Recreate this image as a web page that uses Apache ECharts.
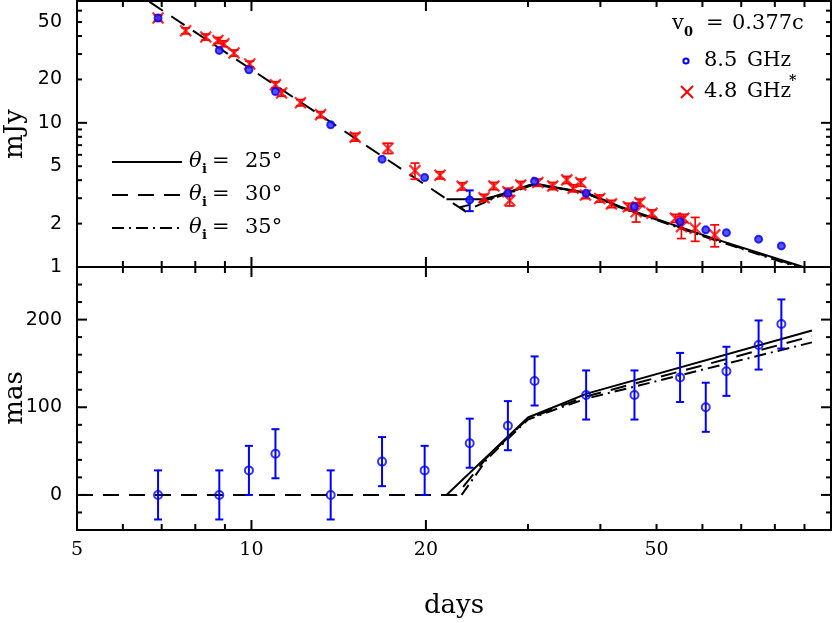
<!DOCTYPE html>
<html><head><meta charset="utf-8">
<script src="https://cdn.jsdelivr.net/npm/echarts@6/dist/echarts.min.js"></script>
<style>html,body{margin:0;padding:0;background:#fff}#c{width:834px;height:623px}</style>
</head><body><div id="c"></div>
<script>
// ---- data ----
// 8.5 GHz epochs (days), flux (mJy), flux error, separation (mas), separation error
const days85 = [6.9, 8.8, 9.9, 11.0, 13.7, 16.8, 19.9, 23.8, 27.7, 30.8, 37.8, 45.8, 54.9, 60.8, 66.0, 75.0, 82.1];
const flux85 = [53.3, 31.8, 23.3, 16.5, 9.7, 5.6, 4.18, 2.92, 3.25, 3.94, 3.25, 2.62, 2.06, 1.81, 1.73, 1.56, 1.40];
const flux85Err = [0, 0, 0, 0, 0, 0, 0, 0.48, 0, 0, 0, 0, 0, 0, 0, 0, 0];
const sep85 = [0, 0, 28, 47, 0, 38, 28, 59, 79, 130, 114, 114, 134, 100, 141, 171, 195];
const sep85Err = [28, 28, 28, 28, 28, 28, 28, 28, 28, 28, 28, 28, 28, 28, 28, 28, 28];
// 4.8 GHz epochs, flux, error
const days48 = [6.9, 7.7, 8.34, 8.75, 8.96, 9.33, 9.93, 11.0, 11.27, 12.15, 13.16, 15.1, 17.2, 19.15, 21.15, 23.1, 25.2, 26.2, 27.7, 27.9, 29.15, 31.2, 33.1, 35.0, 35.9, 37.0, 37.7, 39.9, 41.8, 44.7, 46.1, 46.8, 49.1, 53.9, 55.7, 55.2, 58.3, 63.0];
const flux48 = [53.3, 43.5, 39.4, 37.3, 35.4, 30.5, 25.6, 18.4, 16.1, 13.8, 11.4, 7.96, 6.67, 4.66, 4.33, 3.63, 3.02, 3.65, 3.33, 2.89, 3.71, 3.85, 3.65, 4.02, 3.52, 3.85, 3.16, 2.99, 2.74, 2.62, 2.42, 2.80, 2.36, 2.18, 2.18, 1.905, 1.857, 1.67];
const flux48Err = [2.6, 2.1, 1.9, 1.8, 1.7, 1.5, 1.2, 0.9, 0.8, 0.7, 0.55, 0.5, 0.55, 0.6, 0.25, 0.21, 0.17, 0.21, 0.19, 0.24, 0.21, 0.22, 0.21, 0.23, 0.2, 0.22, 0.18, 0.17, 0.16, 0.15, 0.37, 0.16, 0.13, 0.14, 0.14, 0.33, 0.35, 0.29];
// model curves [days, value]
const theta25Flux = [[21.7, 2.95], [25.1, 2.95], [26.2, 3.08], [27.9, 3.33], [30.2, 3.71], [31.5, 3.74], [33.2, 3.59], [37.9, 3.27], [43.3, 2.62], [62.6, 1.58], [89.6, 1.0]];
const theta30Flux = [[6.67, 69], [23.8, 2.32], [22.9, 2.60], [23.8, 2.70], [26.2, 3.03], [27.9, 3.30], [30.2, 3.68], [31.5, 3.71], [33.2, 3.57], [37.9, 3.25], [43.3, 2.60], [62.6, 1.56], [88.5, 1.0]];
const theta35Flux = [[24.3, 2.62], [26.2, 3.0], [27.9, 3.27], [30.2, 3.64], [31.5, 3.68], [33.2, 3.55], [37.9, 3.23], [43.3, 2.58], [62.6, 1.55], [87.5, 1.0]];
const theta25Mas = [[21.7, 0], [30.0, 88.3], [33.6, 101.5], [37.9, 115.6], [92.7, 187.5]];
const theta30Mas = [[5, 0], [22.6, 0], [25.5, 43], [30.0, 87], [33.6, 99.5], [37.9, 112.5], [92.7, 181]];
const theta35Mas = [[23.05, 0], [25.5, 41], [30.0, 86], [33.6, 98], [37.9, 110], [92.7, 174]];
const thetaValues = [25, 30, 35];
// axes / ticks
const xTickVals = [6, 7, 8, 9, 10, 20, 30, 40, 50, 60, 70, 80, 90];
const xMajorVals = [10, 20];
const xLabelVals = [5, 10, 20, 50];
const yTopTickVals = [2, 3, 4, 5, 6, 7, 8, 9, 10, 20, 30, 40, 50, 60];
const yTopMajorVals = [10];
const yTopLabelVals = [1, 2, 5, 10, 20, 50];
const yBotTickVals = [-20, 0, 20, 40, 60, 80, 100, 120, 140, 160, 180, 200, 220, 240];
const yBotMajorVals = [0, 100, 200];
const yBotLabelVals = [0, 100, 200];

// ---- rendering ----
const BLACK = '#000', RED = '#ff0000', BLUE = '#0000ff';
const SERIF = '"DejaVu Serif", serif', SANS = '"DejaVu Sans", sans-serif';
const chart = echarts.init(document.getElementById('c'));

function errBar(color, lw, cap) {
  return function (params, api) {
    const x = api.value(0), lo = api.value(1), hi = api.value(2);
    if (!(hi > lo)) return null;
    const a = api.coord([x, lo]), b = api.coord([x, hi]);
    const st = {stroke: color, lineWidth: lw};
    return {type: 'group', children: [
      {type: 'line', shape: {x1: a[0], y1: a[1], x2: b[0], y2: b[1]}, style: st},
      {type: 'line', shape: {x1: a[0] - cap, y1: a[1], x2: a[0] + cap, y2: a[1]}, style: st},
      {type: 'line', shape: {x1: b[0] - cap, y1: b[1], x2: b[0] + cap, y2: b[1]}, style: st}
    ]};
  };
}
function xTicks(majors) {
  return function (params, api) {
    const cs = params.coordSys, v = api.value(0);
    const x = api.coord([v, api.value(1)])[0];
    const len = majors.indexOf(v) >= 0 ? 10 : 6;
    const st = {stroke: BLACK, lineWidth: 2};
    return {type: 'group', children: [
      {type: 'line', shape: {x1: x, y1: cs.y + cs.height, x2: x, y2: cs.y + cs.height - len}, style: st},
      {type: 'line', shape: {x1: x, y1: cs.y, x2: x, y2: cs.y + len}, style: st}
    ]};
  };
}
function yTicks(majors) {
  return function (params, api) {
    const cs = params.coordSys, v = api.value(1);
    const y = api.coord([api.value(0), v])[1];
    const len = majors.indexOf(v) >= 0 ? 10 : 5;
    const st = {stroke: BLACK, lineWidth: 2};
    return {type: 'group', children: [
      {type: 'line', shape: {x1: cs.x, y1: y, x2: cs.x + len, y2: y}, style: st},
      {type: 'line', shape: {x1: cs.x + cs.width, y1: y, x2: cs.x + cs.width - len, y2: y}, style: st}
    ]};
  };
}
function xLabels(params, api) {
  const p = api.coord([api.value(0), api.value(1)]);
  return {type: 'text', x: p[0], y: p[1] + 20, style: {text: String(api.value(0)), font: '19px ' + SERIF, fill: BLACK, align: 'center', verticalAlign: 'middle'}};
}
function yLabels(params, api) {
  const p = api.coord([api.value(0), api.value(1)]);
  return {type: 'text', x: p[0] - 15, y: p[1], style: {text: String(api.value(1)), font: '19px ' + SANS, fill: BLACK, align: 'right', verticalAlign: 'middle'}};
}

const XSYM = 'path://M0,0L10,10M10,0L0,10';

const series = [
  // top model curves
  {type: 'line', xAxisIndex: 0, yAxisIndex: 0, data: theta35Flux, showSymbol: false, symbol: 'none', lineStyle: {color: BLACK, width: 2, type: [12, 5, 2, 5]}, z: 2},
  {type: 'line', xAxisIndex: 0, yAxisIndex: 0, data: theta30Flux, showSymbol: false, symbol: 'none', lineStyle: {color: BLACK, width: 2, type: [16, 10]}, z: 2},
  {type: 'line', xAxisIndex: 0, yAxisIndex: 0, data: theta25Flux, showSymbol: false, symbol: 'none', lineStyle: {color: BLACK, width: 2}, z: 2},
  // 4.8 GHz
  {type: 'custom', xAxisIndex: 0, yAxisIndex: 0, renderItem: errBar(RED, 1.7, 4.5), encode: {x: 0, y: [1, 2]},
    data: days48.map((d, i) => [d, flux48[i] - flux48Err[i], flux48[i] + flux48Err[i]]), z: 3, silent: true},
  {type: 'scatter', xAxisIndex: 0, yAxisIndex: 0, symbol: XSYM, symbolSize: 11,
    itemStyle: {color: 'none', borderColor: RED, borderWidth: 2.2},
    data: days48.map((d, i) => [d, flux48[i]]), z: 3},
  // 8.5 GHz flux
  {type: 'custom', xAxisIndex: 0, yAxisIndex: 0, renderItem: errBar(BLUE, 2, 4), encode: {x: 0, y: [1, 2]},
    data: days85.map((d, i) => [d, flux85[i] - flux85Err[i], flux85[i] + flux85Err[i]]), z: 4, silent: true},
  {type: 'scatter', xAxisIndex: 0, yAxisIndex: 0, symbol: 'circle', symbolSize: 7,
    itemStyle: {color: '#2a2aff', borderColor: BLUE, borderWidth: 2},
    data: days85.map((d, i) => [d, flux85[i]]), z: 4},
  // bottom model curves
  {type: 'line', xAxisIndex: 1, yAxisIndex: 1, data: theta35Mas, showSymbol: false, symbol: 'none', lineStyle: {color: BLACK, width: 2, type: [12, 5, 2, 5]}, z: 2},
  {type: 'line', xAxisIndex: 1, yAxisIndex: 1, data: theta30Mas, showSymbol: false, symbol: 'none', lineStyle: {color: BLACK, width: 2, type: [16, 10]}, z: 2},
  {type: 'line', xAxisIndex: 1, yAxisIndex: 1, data: theta25Mas, showSymbol: false, symbol: 'none', lineStyle: {color: BLACK, width: 2}, z: 2},
  // separation
  {type: 'custom', xAxisIndex: 1, yAxisIndex: 1, renderItem: errBar(BLUE, 2, 4), encode: {x: 0, y: [1, 2]},
    data: days85.map((d, i) => [d, sep85[i] - sep85Err[i], sep85[i] + sep85Err[i]]), z: 3, silent: true},
  {type: 'scatter', xAxisIndex: 1, yAxisIndex: 1, symbol: 'circle', symbolSize: 8,
    itemStyle: {color: 'rgba(255,255,255,0)', borderColor: BLUE, borderWidth: 2},
    data: days85.map((d, i) => [d, sep85[i]]), z: 3},
  // ticks and labels
  {type: 'custom', xAxisIndex: 0, yAxisIndex: 0, renderItem: xTicks(xMajorVals), data: xTickVals.map(v => [v, 2]), silent: true, z: 5},
  {type: 'custom', xAxisIndex: 1, yAxisIndex: 1, renderItem: xTicks(xMajorVals), data: xTickVals.map(v => [v, 0]), silent: true, z: 5},
  {type: 'custom', xAxisIndex: 0, yAxisIndex: 0, renderItem: yTicks(yTopMajorVals), data: yTopTickVals.map(v => [10, v]), silent: true, z: 5},
  {type: 'custom', xAxisIndex: 1, yAxisIndex: 1, renderItem: yTicks(yBotMajorVals), data: yBotTickVals.map(v => [10, v]), silent: true, z: 5},
  {type: 'custom', xAxisIndex: 1, yAxisIndex: 1, renderItem: xLabels, clip: false, data: xLabelVals.map(v => [v, -40]), silent: true, z: 5},
  {type: 'custom', xAxisIndex: 0, yAxisIndex: 0, renderItem: yLabels, clip: false, data: yTopLabelVals.map(v => [5, v]), silent: true, z: 5},
  {type: 'custom', xAxisIndex: 1, yAxisIndex: 1, renderItem: yLabels, clip: false, data: yBotLabelVals.map(v => [5, v]), silent: true, z: 5}
];

const hidden = {axisLine: {show: false}, axisTick: {show: false}, axisLabel: {show: false}, splitLine: {show: false}};

const graphic = [];
const legY = [162, 195, 228];
const legDash = [null, [16, 10], [12, 5, 2, 5]];
thetaValues.forEach((t, i) => {
  const y = legY[i];
  graphic.push({type: 'line', shape: {x1: 112, y1: y, x2: 182, y2: y}, style: {stroke: BLACK, lineWidth: 2, lineDash: legDash[i]}});
  graphic.push({type: 'text', x: 189, y: y, style: {text: 'θ', font: 'italic 21px ' + SERIF, fill: BLACK, verticalAlign: 'middle'}});
  graphic.push({type: 'text', x: 202, y: y + 8, style: {text: 'i', font: 'bold 13px ' + SERIF, fill: BLACK, verticalAlign: 'middle'}});
  graphic.push({type: 'text', x: 212, y: y, style: {text: '=', font: '21px ' + SERIF, fill: BLACK, verticalAlign: 'middle'}});
  graphic.push({type: 'text', x: 245, y: y, style: {text: t + '°', font: '21px ' + SERIF, fill: BLACK, verticalAlign: 'middle'}});
});
graphic.push({type: 'text', x: 672, y: 24, style: {text: 'v', font: '21px ' + SERIF, fill: BLACK, verticalAlign: 'middle'}});
graphic.push({type: 'text', x: 684, y: 33, style: {text: '0', font: 'bold 13px ' + SERIF, fill: BLACK, verticalAlign: 'middle'}});
graphic.push({type: 'text', x: 706, y: 24, style: {text: '=', font: '21px ' + SERIF, fill: BLACK, verticalAlign: 'middle'}});
graphic.push({type: 'text', x: 732, y: 24, style: {text: '0.377c', font: '21px ' + SERIF, fill: BLACK, verticalAlign: 'middle'}});
graphic.push({type: 'circle', shape: {cx: 686, cy: 61, r: 2.6}, style: {fill: 'none', stroke: BLUE, lineWidth: 2}});
graphic.push({type: 'text', x: 704, y: 61, style: {text: '8.5', font: '21px ' + SERIF, fill: BLACK, verticalAlign: 'middle'}});
graphic.push({type: 'text', x: 747, y: 61, style: {text: 'GHz', font: '20px ' + SERIF, fill: BLACK, verticalAlign: 'middle'}});
graphic.push({type: 'polyline', shape: {points: [[681, 86], [693, 98]]}, style: {stroke: RED, lineWidth: 2}});
graphic.push({type: 'polyline', shape: {points: [[693, 86], [681, 98]]}, style: {stroke: RED, lineWidth: 2}});
graphic.push({type: 'text', x: 704, y: 92, style: {text: '4.8', font: '21px ' + SERIF, fill: BLACK, verticalAlign: 'middle'}});
graphic.push({type: 'text', x: 747, y: 92, style: {text: 'GHz', font: '20px ' + SERIF, fill: BLACK, verticalAlign: 'middle'}});
graphic.push({type: 'text', x: 789, y: 81, style: {text: '*', font: 'bold 14px ' + SERIF, fill: BLACK, verticalAlign: 'middle'}});
// axis names
graphic.push({type: 'text', x: 15, y: 134, rotation: Math.PI / 2, style: {text: 'mJy', font: '26px ' + SERIF, fill: BLACK, align: 'center', verticalAlign: 'middle'}});
graphic.push({type: 'text', x: 15, y: 398, rotation: Math.PI / 2, style: {text: 'mas', font: '26px ' + SERIF, fill: BLACK, align: 'center', verticalAlign: 'middle'}});
graphic.push({type: 'text', x: 454, y: 606, style: {text: 'days', font: '26px ' + SERIF, fill: BLACK, align: 'center', verticalAlign: 'middle'}});

chart.setOption({
  animation: false,
  backgroundColor: '#fff',
  grid: [
    {left: 77, right: 3, top: 1, height: 266, show: true, borderColor: BLACK, borderWidth: 2},
    {left: 77, right: 3, top: 267, height: 263, show: true, borderColor: BLACK, borderWidth: 2}
  ],
  xAxis: [
    Object.assign({type: 'log', logBase: 10, min: 5, max: 100, gridIndex: 0}, hidden),
    Object.assign({type: 'log', logBase: 10, min: 5, max: 100, gridIndex: 1}, hidden)
  ],
  yAxis: [
    Object.assign({type: 'log', logBase: 10, min: 1, max: 70, gridIndex: 0}, hidden),
    Object.assign({type: 'value', min: -40, max: 260, gridIndex: 1}, hidden)
  ],
  series: series,
  graphic: graphic
});
</script>
</body></html>
